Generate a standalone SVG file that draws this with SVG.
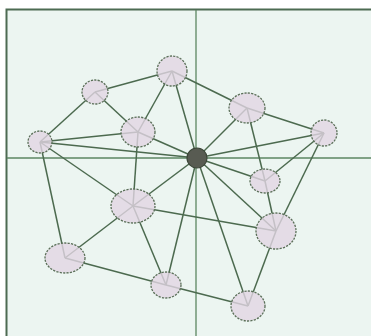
<svg xmlns="http://www.w3.org/2000/svg" width="371" height="336" viewBox="0 0 371 336">
<style>
.bg{fill:#ecf5f1}
.frame{stroke:#4d6b52;stroke-width:2;fill:none}
.axis{stroke:#5c8662;stroke-width:1.3;fill:none}
.edge{stroke:#4c6a4f;stroke-width:1.5;fill:none}
.node{fill:#e2d6e4;fill-opacity:0.8;stroke:#5a6f58;stroke-width:1.3;stroke-dasharray:2.2 1.2}
.hub{fill:#585b52;stroke:#3c4638;stroke-width:1.2}
</style>
<rect x="0" y="0" width="371" height="336" fill="#ffffff"/>
<rect class="bg" x="6" y="9" width="365" height="327"/>
<path class="frame" d="M6.5,336 V9.5 H371"/>
<g id="axes">
<line class="axis" x1="196" y1="10" x2="196" y2="336"/>
<line class="axis" x1="7" y1="158" x2="371" y2="158"/>
</g>
<g id="connectors">
<line class="edge" x1="40" y1="142" x2="95" y2="92"/>
<line class="edge" x1="95" y1="92" x2="172" y2="71"/>
<line class="edge" x1="95" y1="92" x2="138" y2="132"/>
<line class="edge" x1="172" y1="71" x2="138" y2="132"/>
<line class="edge" x1="172" y1="71" x2="247" y2="108"/>
<line class="edge" x1="172" y1="71" x2="197" y2="158"/>
<line class="edge" x1="40" y1="142" x2="138" y2="132"/>
<line class="edge" x1="40" y1="142" x2="197" y2="158"/>
<line class="edge" x1="40" y1="142" x2="133" y2="206"/>
<line class="edge" x1="40" y1="142" x2="65" y2="258"/>
<line class="edge" x1="138" y1="132" x2="197" y2="158"/>
<line class="edge" x1="138" y1="132" x2="133" y2="206"/>
<line class="edge" x1="247" y1="108" x2="324" y2="133"/>
<line class="edge" x1="247" y1="108" x2="197" y2="158"/>
<line class="edge" x1="247" y1="108" x2="265" y2="181"/>
<line class="edge" x1="324" y1="133" x2="197" y2="158"/>
<line class="edge" x1="324" y1="133" x2="265" y2="181"/>
<line class="edge" x1="324" y1="133" x2="276" y2="231"/>
<line class="edge" x1="265" y1="181" x2="197" y2="158"/>
<line class="edge" x1="265" y1="181" x2="276" y2="231"/>
<line class="edge" x1="276" y1="231" x2="197" y2="158"/>
<line class="edge" x1="276" y1="231" x2="133" y2="206"/>
<line class="edge" x1="276" y1="231" x2="248" y2="306"/>
<line class="edge" x1="133" y1="206" x2="197" y2="158"/>
<line class="edge" x1="133" y1="206" x2="65" y2="258"/>
<line class="edge" x1="133" y1="206" x2="166" y2="285"/>
<line class="edge" x1="65" y1="258" x2="166" y2="285"/>
<line class="edge" x1="166" y1="285" x2="197" y2="158"/>
<line class="edge" x1="166" y1="285" x2="248" y2="306"/>
<line class="edge" x1="248" y1="306" x2="197" y2="158"/>
</g>
<g id="n1"><ellipse class="node" cx="95" cy="92" rx="13" ry="12"/></g>
<g id="n2"><ellipse class="node" cx="172" cy="71" rx="15" ry="15"/></g>
<g id="n3"><ellipse class="node" cx="138" cy="132" rx="17" ry="15"/></g>
<g id="n4"><ellipse class="node" cx="40" cy="142" rx="12" ry="11"/></g>
<g id="n5"><ellipse class="node" cx="247" cy="108" rx="18" ry="15"/></g>
<g id="n6"><ellipse class="node" cx="324" cy="133" rx="13" ry="13"/></g>
<g id="n7"><ellipse class="node" cx="265" cy="181" rx="15" ry="12"/></g>
<g id="n8"><ellipse class="node" cx="276" cy="231" rx="20" ry="18"/></g>
<g id="n9"><ellipse class="node" cx="133" cy="206" rx="22" ry="17"/></g>
<g id="n10"><ellipse class="node" cx="65" cy="258" rx="20" ry="15"/></g>
<g id="n11"><ellipse class="node" cx="166" cy="285" rx="15" ry="13"/></g>
<g id="n12"><ellipse class="node" cx="248" cy="306" rx="17" ry="15"/></g>
<g id="hub"><circle class="hub" cx="197" cy="158" r="10"/></g>
</svg>
